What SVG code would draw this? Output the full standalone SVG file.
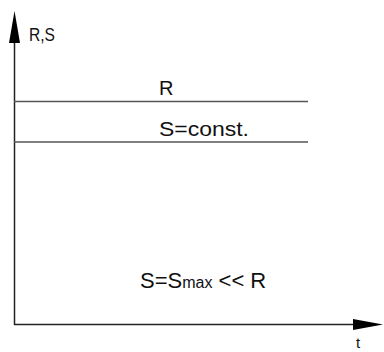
<svg xmlns="http://www.w3.org/2000/svg" width="384" height="352" viewBox="0 0 384 352">
<style>
.t{font-family:"Liberation Sans",Arial,sans-serif;fill:#111}
.ax{stroke:#222;stroke-width:1.5;fill:none}
.ln{stroke:#555;stroke-width:1.5;fill:none}
</style>
<rect width="384" height="352" fill="#fff"/>
<g id="connectors">
<line class="ax" x1="14.5" y1="40" x2="14.5" y2="325"/>
<line class="ax" x1="14" y1="324.5" x2="356" y2="324.5"/>
<polygon points="14.5,11 20,43 9,43" fill="#000"/>
<polygon points="383,324.5 353,319 353,330" fill="#000"/>
<line class="ln" x1="14" y1="101.5" x2="308" y2="101.5"/>
<line class="ln" x1="14" y1="142" x2="308" y2="142"/>
</g>
<g id="axis-y-label"><text class="t" x="29" y="41" font-size="19" textLength="26" lengthAdjust="spacingAndGlyphs">R,S</text></g>
<g id="axis-x-label"><text class="t" x="356" y="348" font-size="15">t</text></g>
<g id="R"><text class="t" x="159" y="95" font-size="20">R</text></g>
<g id="S"><text class="t" x="159" y="136" font-size="20" textLength="90" lengthAdjust="spacingAndGlyphs">S=const.</text></g>
<g id="note"><text class="t" x="140" y="288" font-size="22">S=S<tspan font-size="16">max</tspan> &lt;&lt; R</text></g>
</svg>
